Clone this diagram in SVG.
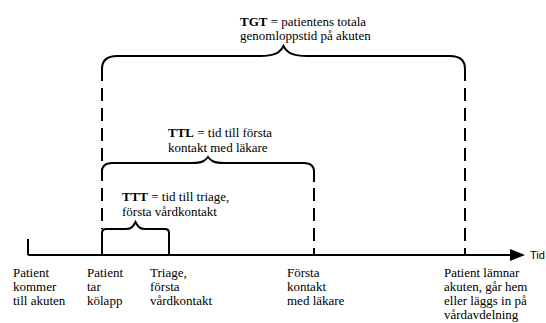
<svg xmlns="http://www.w3.org/2000/svg" width="546" height="323" viewBox="0 0 546 323">
<style>
.t{font-family:"Liberation Serif","Times New Roman",serif;font-size:13px;fill:#000}
.b{font-weight:bold}
.ln{fill:none;stroke:#000;stroke-width:2}
.d{stroke-dasharray:13 7}
</style>
<rect width="546" height="323" fill="#fff"/>
<g id="connectors">
<line class="ln" x1="28" y1="255" x2="512" y2="255"/>
<polygon points="510,249 525,255 510,261" fill="#000"/>
<line class="ln" x1="28" y1="239" x2="28" y2="255"/>
<line class="ln d" x1="102" y1="88" x2="102" y2="229"/>
<line class="ln d" x1="465" y1="88" x2="465" y2="255"/>
<line class="ln d" x1="314" y1="188" x2="314" y2="255"/>
</g>
<g id="tgt">
<path class="ln" d="M102,81 V69 Q102,56 117,56 H260 C274,56 280,53 283.5,46 C287,53 293,56 307,56 H450 Q465,56 465,69 V81"/>
<text class="t" x="240" y="25.5"><tspan class="b">TGT</tspan> = patientens totala</text>
<text class="t" x="240" y="40">genomloppstid på akuten</text>
</g>
<g id="ttl">
<path class="ln" d="M102,172 Q102,163 112,163 H192 C202,163 205,161 208,157 C211,161 214,163 224,163 H304 Q314,163 314,172 V182"/>
<text class="t" x="168" y="137"><tspan class="b">TTL</tspan> = tid till första</text>
<text class="t" x="168" y="152">kontakt med läkare</text>
</g>
<g id="ttt">
<path class="ln" d="M102,255 V233 Q102,229 106,229 H126 C131,229 133,227 135.5,222 C138,227 140,229 145,229 H165 Q169,229 169,233 V255"/>
<text class="t" x="122" y="200.5"><tspan class="b">TTT</tspan> = tid till triage,</text>
<text class="t" x="122" y="215.5">första vårdkontakt</text>
</g>
<g id="tid">
<text x="530" y="259" style="font-family:'Liberation Sans',Arial,sans-serif;font-size:11px">Tid</text>
</g>
<g id="l1"><text class="t" y="277"><tspan x="13">Patient</tspan><tspan x="13" dy="14">kommer</tspan><tspan x="13" dy="14">till akuten</tspan></text></g>
<g id="l2"><text class="t" y="277"><tspan x="87">Patient</tspan><tspan x="87" dy="14">tar</tspan><tspan x="87" dy="14">kölapp</tspan></text></g>
<g id="l3"><text class="t" y="277"><tspan x="150">Triage,</tspan><tspan x="150" dy="14">första</tspan><tspan x="150" dy="14">vårdkontakt</tspan></text></g>
<g id="l4"><text class="t" y="277"><tspan x="287">Första</tspan><tspan x="287" dy="14">kontakt</tspan><tspan x="287" dy="14">med läkare</tspan></text></g>
<g id="l5"><text class="t" y="277"><tspan x="444">Patient lämnar</tspan><tspan x="444" dy="14">akuten, går hem</tspan><tspan x="444" dy="14">eller läggs in på</tspan><tspan x="444" dy="14">vårdavdelning</tspan></text></g>
</svg>
